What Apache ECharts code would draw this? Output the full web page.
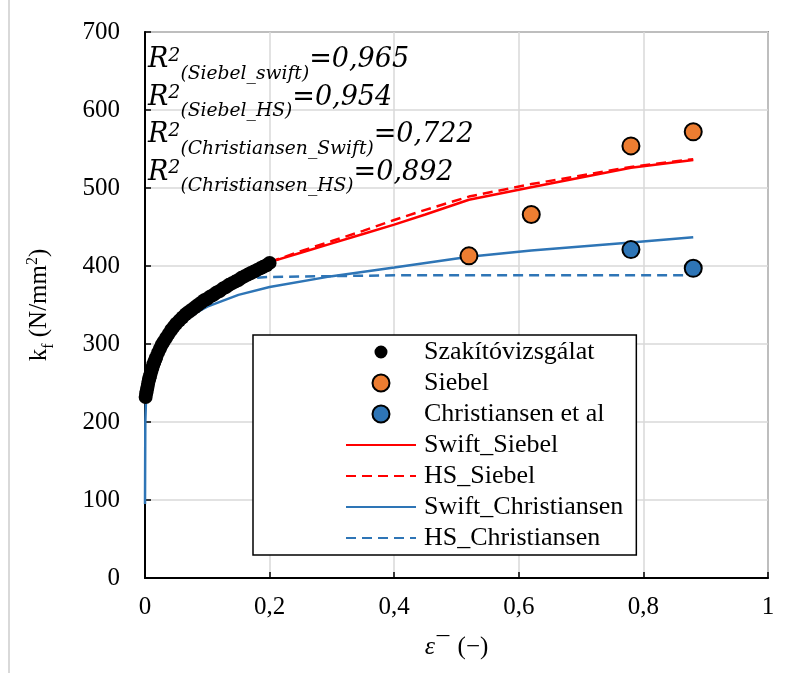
<!DOCTYPE html>
<html><head><meta charset="utf-8">
<script src="https://cdn.jsdelivr.net/npm/echarts@6/dist/echarts.min.js"></script>
<style>html,body{margin:0;padding:0;background:#fff}#c{width:787px;height:675px}</style>
</head><body><div id="c"></div>
<script>
// ---- data ----
const tensileStrain = [0.001,0.002,0.003,0.004,0.005,0.006,0.007,0.008,0.009,0.0105,0.012,0.0135,0.015,0.0165,0.018,0.021,0.024,0.027,0.030,0.034,0.038,0.042,0.046,0.050,0.055,0.060,0.065,0.070,0.075,0.080,0.085,0.090,0.095,0.100,0.105,0.110,0.115,0.120,0.125,0.130,0.135,0.140,0.145,0.150,0.155,0.160,0.165,0.170,0.175,0.180,0.185,0.190,0.195,0.200];
const tensileStress = [232,237,241,245,249,253,256,259,262,266,270,274,277,280,283,289,294,299,303,308,313,318,322,326,330,334,338,341,344,347,350,353,356,358,361,363,366,368,371,373,376,378,380,382,385,387,389,391,393,395,397,399,401,404];

const siebelStrain = [0.52,0.62,0.78,0.88];
const siebelStress = [413,466,554,572];

const christStrain = [0.78,0.88];
const christStress = [421,397];

const siebelFitStrain = [0.2,0.25,0.3,0.35,0.4,0.45,0.52,0.62,0.78,0.88];
const swiftSiebel = [405,417,429,441,453,466,485,501,526,536];
const hsSiebel    = [405,419,432,445,459,472,489,505,527,537];

const swiftChristStrain = [0,0.0005,0.002,0.005,0.01,0.02,0.03,0.04,0.05,0.07,0.1,0.15,0.2,0.3,0.4,0.52,0.62,0.78,0.88];
const swiftChrist       = [95,200,238,258,276,297,309,317,324,335,348,363,373,387,398,412,420,430,437];

const hsChristStrain = [0.18,0.2,0.3,0.4,0.52,0.62,0.78,0.88];
const hsChrist       = [385,386,387,388,388,388,388,388];

const xTicks = {min:0, max:1, interval:0.2};
const yTicks = {min:0, max:700, interval:100};

const r2Lines = [
  ['(Siebel_swift)', '=0,965'],
  ['(Siebel_HS)', '=0,954'],
  ['(Christiansen_Swift)', '=0,722'],
  ['(Christiansen_HS)', '=0,892']
];

// ---- helpers ----
const zip = (xs, ys) => xs.map((x, i) => [x, ys[i]]);
const serif = 'Liberation Serif';
const RED = '#ff0000', BLUE = '#2e75b6', ORANGE = '#ed7d31';

const chart = echarts.init(document.getElementById('c'), null, {renderer:'canvas'});

const annFont = 'DejaVu Serif';
const rich = {
  m: {fontFamily: annFont, fontStyle:'italic', fontSize:27, lineHeight:27, padding:[0,0,10,0], verticalAlign:'bottom', color:'#000'},
  sup: {fontFamily: annFont, fontStyle:'italic', fontSize:19, lineHeight:19, padding:[0,0,18,0], verticalAlign:'bottom', color:'#000'},
  sub: {fontFamily: annFont, fontStyle:'italic', fontSize:18.7, lineHeight:18, padding:[0,0,0,0], verticalAlign:'bottom', color:'#000'}
};
const annTops = [46.5, 84, 121.5, 159];
const graphics = r2Lines.map((l, i) => ({
  type:'text', left:148, top:annTops[i], z:100,
  style:{text:'{m|R}{sup|2}{sub|' + l[0] + '}{m|' + l[1] + '}', rich: rich}
}));
graphics.push({type:'line', shape:{x1:9, y1:0, x2:9, y2:673}, style:{stroke:'#d9d9d9', lineWidth:2}, z:0});

const dotIcon = 'path://M0,0L0.01,0M17,17L17.01,17M8.5,2A6.5,6.5,0,1,1,8.49,2Z';
const noSymbol = {opacity:0};

const option = {
  animation:false,
  backgroundColor:'#fff',
  grid:{left:145, right:19, top:32, bottom:97, show:true, borderColor:'#404040', borderWidth:1.5, containLabel:false},
  xAxis:{
    type:'value', min:xTicks.min, max:xTicks.max, interval:xTicks.interval,
    axisLine:{show:true, onZero:false, lineStyle:{color:'#000', width:2}},
    axisTick:{show:true, inside:true, length:6, lineStyle:{color:'#000', width:1.5}},
    splitLine:{show:true, lineStyle:{color:'#d9d9d9', width:1.5}},
    axisLabel:{fontFamily:serif, fontSize:25, color:'#000', margin:17,
      formatter: v => (v === 0 || v === 1) ? String(v) : v.toFixed(1).replace('.', ',')},
    name:'{e|ε}{m|¯}{a| (−)}', nameLocation:'middle', nameGap:56,
    nameTextStyle:{rich:{
      e:{fontFamily:serif, fontStyle:'italic', fontSize:26, lineHeight:26, verticalAlign:'bottom', color:'#000'},
      m:{fontFamily:serif, fontSize:25, lineHeight:25, padding:[0,2,0,2], verticalAlign:'bottom', color:'#000'},
      a:{fontFamily:serif, fontSize:25, lineHeight:25, verticalAlign:'bottom', color:'#000'}
    }}
  },
  yAxis:{
    type:'value', min:yTicks.min, max:yTicks.max, interval:yTicks.interval,
    axisLine:{show:true, onZero:false, lineStyle:{color:'#000', width:2}},
    axisTick:{show:true, inside:true, length:6, lineStyle:{color:'#000', width:1.5}},
    splitLine:{show:true, lineStyle:{color:'#d9d9d9', width:1.5}},
    axisLabel:{fontFamily:serif, fontSize:25, color:'#000', margin:25},
    name:'{a|k}{b|f}{a| (N/mm}{c|2}{a|)}', nameLocation:'middle', nameGap:88, nameRotate:90,
    nameTextStyle:{rich:{
      a:{fontFamily:serif, fontSize:25, lineHeight:25, padding:[0,0,5,0], verticalAlign:'bottom', color:'#000'},
      b:{fontFamily:serif, fontSize:16, lineHeight:16, verticalAlign:'bottom', color:'#000'},
      c:{fontFamily:serif, fontSize:16, lineHeight:16, padding:[0,0,16,0], verticalAlign:'bottom', color:'#000'}
    }}
  },
  legend:{
    orient:'vertical', left:253, top:335,
    itemWidth:70, itemHeight:17, itemGap:5,
    padding:[4,13,4,92],
    backgroundColor:'#fff', borderColor:'#000', borderWidth:1.5, borderRadius:0,
    textStyle:{fontFamily:serif, fontSize:26, lineHeight:26, color:'#000', padding:[0,0,0,3]},
    data:[
      {name:'Szakítóvizsgálat', icon:dotIcon},
      'Siebel', 'Christiansen et al',
      {name:'Swift_Siebel', itemStyle:noSymbol},
      {name:'HS_Siebel', itemStyle:noSymbol},
      {name:'Swift_Christiansen', itemStyle:noSymbol},
      {name:'HS_Christiansen', itemStyle:noSymbol}
    ]
  },
  graphic: graphics,
  series:[
    {name:'Swift_Siebel', type:'line', data:zip(siebelFitStrain, swiftSiebel), showSymbol:false, symbol:'none',
      lineStyle:{color:RED, width:2.5}, itemStyle:{color:RED}, z:2},
    {name:'HS_Siebel', type:'line', data:zip(siebelFitStrain, hsSiebel), showSymbol:false, symbol:'none',
      lineStyle:{color:RED, width:2.5, type:[10,6]}, itemStyle:{color:RED}, z:2},
    {name:'Swift_Christiansen', type:'line', data:zip(swiftChristStrain, swiftChrist), showSymbol:false, symbol:'none',
      lineStyle:{color:BLUE, width:2.5}, itemStyle:{color:BLUE}, z:2},
    {name:'HS_Christiansen', type:'line', data:zip(hsChristStrain, hsChrist), showSymbol:false, symbol:'none',
      lineStyle:{color:BLUE, width:2.5, type:[10,6]}, itemStyle:{color:BLUE}, z:2},
    {name:'Siebel', type:'scatter', data:zip(siebelStrain, siebelStress), symbol:'circle', symbolSize:17,
      itemStyle:{color:ORANGE, borderColor:'#000', borderWidth:2, opacity:1}, z:3},
    {name:'Christiansen et al', type:'scatter', data:zip(christStrain, christStress), symbol:'circle', symbolSize:17,
      itemStyle:{color:BLUE, borderColor:'#000', borderWidth:2, opacity:1}, z:3},
    {name:'Szakítóvizsgálat', type:'scatter', data:zip(tensileStrain, tensileStress), symbol:'circle', symbolSize:14,
      itemStyle:{color:'#000', opacity:1}, z:4}
  ]
};
chart.setOption(option);
</script>
</body></html>
